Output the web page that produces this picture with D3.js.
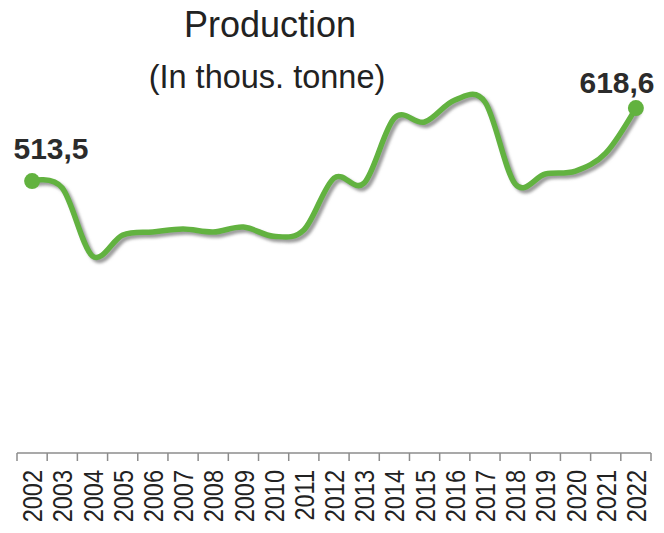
<!DOCTYPE html>
<html>
<head>
<meta charset="utf-8">
<script src="https://cdn.jsdelivr.net/npm/d3@7"></script>
<style>
  html, body { margin: 0; padding: 0; background: #fff; }
  svg { display: block; }
  text { font-family: "Liberation Sans", Arial, sans-serif; }
</style>
</head>
<body>
<svg id="chart" width="664" height="533"></svg>
<script>
const years = ["2002","2003","2004","2005","2006","2007","2008","2009","2010","2011","2012",
               "2013","2014","2015","2016","2017","2018","2019","2020","2021","2022"];
const production = [513.5, 503.4, 405.5, 435.7, 440.1, 444.4, 440.1, 447.3, 434.0, 443.0, 517.8,
                    510.6, 604.2, 598.5, 630.1, 627.3, 509.2, 523.6, 527.9, 553.8, 618.6];
const endLabels = ["513,5", "618,6"];
const title = "Production";
const subtitle = "(In thous. tonne)";

const svg = d3.select("#chart");
const W = 664, H = 533;

const x = d3.scaleBand().domain(years).range([17, 651]).padding(0);
const y = d3.scaleLinear().domain([0, 700]).range([537.7, 51.5]);
const cx = d => x(d) + x.bandwidth() / 2;

// shadow filter
const defs = svg.append("defs");
const f = defs.append("filter").attr("id", "shadow")
  .attr("x", "-10%").attr("y", "-20%").attr("width", "120%").attr("height", "140%");
f.append("feDropShadow").attr("dx", 3).attr("dy", 3).attr("stdDeviation", 1.6)
  .attr("flood-color", "#7a7a7a").attr("flood-opacity", 0.75);

// titles
svg.append("text").attr("x", 270).attr("y", 37).attr("text-anchor", "middle")
  .attr("font-size", 36).attr("fill", "#222").text(title);
svg.append("text").attr("x", 267).attr("y", 88).attr("text-anchor", "middle")
  .attr("font-size", 32.5).attr("fill", "#222").text(subtitle);

// axis
const axisY = 453;
const gx = svg.append("g").attr("transform", `translate(0,${axisY})`);
gx.append("line").attr("x1", x.range()[0]).attr("x2", x.range()[1])
  .attr("y1", 0).attr("y2", 0).attr("stroke", "#8c8c8c").attr("stroke-width", 1.5);
const bounds = years.map(d => x(d)).concat([x(years[years.length - 1]) + x.bandwidth()]);
gx.selectAll("line.tk").data(bounds).enter().append("line").attr("class", "tk")
  .attr("x1", d => d).attr("x2", d => d).attr("y1", 0).attr("y2", 8)
  .attr("stroke", "#8c8c8c").attr("stroke-width", 1.5);

const axis = d3.axisBottom(x).tickSize(0).tickPadding(0);
const gl = svg.append("g").attr("transform", `translate(0,${axisY})`).call(axis);
gl.select(".domain").remove();
gl.selectAll(".tick text")
  .attr("font-size", 28)
  .attr("font-family", "'Liberation Sans', Arial, sans-serif")
  .attr("fill", "#222")
  .attr("text-anchor", "end")
  .attr("x", 0).attr("y", 0).attr("dy", "0.36em")
  .attr("transform", "translate(0,17) rotate(-90) scale(0.84,1)");

// line
const line = d3.line()
  .x((d, i) => cx(years[i]))
  .y(d => y(d))
  .curve(d3.curveCardinal.tension(0));

svg.append("path").datum(production)
  .attr("d", line)
  .attr("fill", "none")
  .attr("stroke", "#62b23f")
  .attr("stroke-width", 5.5)
  .attr("stroke-linejoin", "round")
  .attr("stroke-linecap", "round")
  .attr("filter", "url(#shadow)");

// end points
const ends = [0, production.length - 1];
svg.selectAll("circle.end").data(ends).enter().append("circle")
  .attr("class", "end")
  .attr("cx", i => cx(years[i]))
  .attr("cy", i => y(production[i]))
  .attr("r", 8)
  .attr("fill", "#62b23f");

svg.selectAll("text.endlbl").data(ends).enter().append("text")
  .attr("class", "endlbl")
  .attr("x", (i, k) => k === 0 ? 51 : 617)
  .attr("y", i => y(production[i]) - (i === 0 ? 22 : 15))
  .attr("text-anchor", "middle")
  .attr("font-size", 30)
  .attr("font-weight", "bold")
  .attr("fill", "#2b2b2b")
  .text((i, k) => endLabels[k]);
</script>
</body>
</html>
